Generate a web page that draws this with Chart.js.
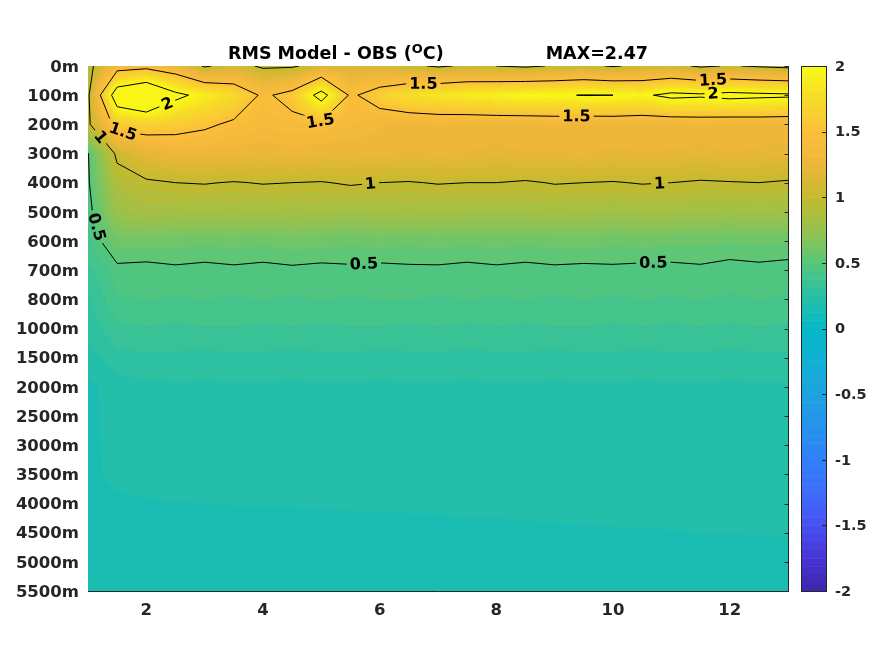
<!DOCTYPE html>
<html>
<head>
<meta charset="utf-8">
<script src="https://cdn.jsdelivr.net/npm/chart.js@4.4.0/dist/chart.umd.min.js"></script>
<style>
  html, body { margin: 0; padding: 0; background: #fff; }
  #wrap { width: 875px; height: 656px; }
</style>
</head>
<body>
<div id="wrap"><canvas id="rms"></canvas></div>
<script>
// depth levels (rows) and time axis (columns)
const depths = [0, 100, 200, 300, 400, 500, 600, 700, 800, 1000, 1500, 2000, 2500, 3000, 3500, 4000, 4500, 5000, 5500];
const months = [1, 1.5, 2, 2.5, 3, 3.5, 4, 4.5, 5, 5.5, 6, 6.5, 7, 7.5, 8, 8.5, 9, 9.5, 10, 10.5, 11, 11.5, 12, 12.5, 13];
const xTicks = [2, 4, 6, 8, 10, 12];
const cbTicks = [-2, -1.5, -1, -0.5, 0, 0.5, 1, 1.5, 2];
const levels = [0.5, 1, 1.5, 2];

// RMS values per depth, one entry per month column
const rms0    = [0.92, 1.35, 1.40, 1.28, 0.97, 1.10, 0.96, 0.97, 1.10, 1.15, 1.10, 1.05, 0.97, 1.03, 1.00, 0.96, 1.02, 1.05, 0.98, 1.05, 1.08, 0.96, 1.02, 0.97, 0.93];
const rms100  = [0.95, 2.25, 2.47, 2.08, 1.90, 1.75, 1.45, 1.60, 2.15, 1.45, 1.65, 1.80, 1.85, 1.90, 1.93, 1.98, 1.97, 2.01, 2.00, 1.95, 2.08, 2.05, 2.10, 2.07, 2.05];
const rms200  = [0.95, 1.62, 1.66, 1.62, 1.55, 1.45, 1.40, 1.42, 1.42, 1.38, 1.32, 1.30, 1.32, 1.30, 1.31, 1.30, 1.32, 1.30, 1.31, 1.30, 1.30, 1.32, 1.30, 1.31, 1.30];
const rms300  = [0.49, 1.05, 1.22, 1.28, 1.28, 1.27, 1.25, 1.28, 1.26, 1.25, 1.27, 1.24, 1.26, 1.25, 1.22, 1.25, 1.24, 1.26, 1.23, 1.25, 1.24, 1.22, 1.25, 1.23, 1.22];
const rms400  = [0.48, 0.90, 0.97, 1.00, 1.01, 0.99, 1.01, 1.00, 0.99, 1.02, 1.00, 0.99, 1.01, 1.00, 1.00, 0.98, 1.01, 1.00, 0.99, 1.01, 1.00, 0.98, 0.99, 1.00, 0.98];
const rms500  = [0.45, 0.78, 0.84, 0.83, 0.82, 0.83, 0.82, 0.83, 0.82, 0.81, 0.82, 0.83, 0.82, 0.82, 0.81, 0.82, 0.83, 0.82, 0.81, 0.82, 0.82, 0.81, 0.80, 0.81, 0.80];
const rms600  = [0.42, 0.60, 0.60, 0.59, 0.58, 0.59, 0.58, 0.60, 0.59, 0.58, 0.59, 0.58, 0.59, 0.58, 0.59, 0.58, 0.59, 0.60, 0.58, 0.59, 0.58, 0.58, 0.57, 0.58, 0.57];
const rms700  = [0.35, 0.47, 0.46, 0.48, 0.47, 0.48, 0.47, 0.48, 0.47, 0.48, 0.47, 0.48, 0.48, 0.47, 0.48, 0.47, 0.48, 0.47, 0.48, 0.47, 0.47, 0.48, 0.46, 0.47, 0.46];
const rms800  = [0.30, 0.43, 0.44, 0.43, 0.44, 0.43, 0.44, 0.43, 0.44, 0.43, 0.44, 0.44, 0.43, 0.44, 0.43, 0.44, 0.43, 0.44, 0.43, 0.44, 0.43, 0.44, 0.43, 0.44, 0.43];
const rms1000 = [0.27, 0.36, 0.37, 0.36, 0.37, 0.37, 0.36, 0.37, 0.36, 0.37, 0.37, 0.36, 0.37, 0.36, 0.37, 0.36, 0.37, 0.37, 0.36, 0.37, 0.36, 0.37, 0.36, 0.37, 0.36];
const rms1500 = [0.22, 0.29, 0.30, 0.30, 0.29, 0.30, 0.30, 0.29, 0.30, 0.30, 0.29, 0.30, 0.30, 0.29, 0.30, 0.30, 0.29, 0.30, 0.30, 0.29, 0.30, 0.30, 0.29, 0.30, 0.30];
const rms2000 = [0.17, 0.22, 0.235, 0.24, 0.24, 0.24, 0.24, 0.24, 0.24, 0.24, 0.24, 0.24, 0.24, 0.24, 0.24, 0.24, 0.24, 0.24, 0.24, 0.24, 0.24, 0.24, 0.24, 0.24, 0.24];
const rms2500 = [0.17, 0.215, 0.23, 0.23, 0.23, 0.23, 0.23, 0.23, 0.23, 0.23, 0.23, 0.23, 0.23, 0.23, 0.23, 0.23, 0.23, 0.23, 0.23, 0.23, 0.23, 0.23, 0.23, 0.23, 0.23];
const rms3000 = [0.17, 0.21, 0.225, 0.225, 0.225, 0.225, 0.225, 0.225, 0.225, 0.225, 0.225, 0.225, 0.225, 0.225, 0.225, 0.225, 0.225, 0.225, 0.225, 0.225, 0.225, 0.225, 0.225, 0.225, 0.225];
const rms3500 = [0.17, 0.205, 0.215, 0.22, 0.22, 0.22, 0.22, 0.22, 0.22, 0.22, 0.22, 0.22, 0.22, 0.22, 0.22, 0.22, 0.22, 0.22, 0.22, 0.22, 0.22, 0.22, 0.22, 0.22, 0.22];
const rms4000 = [0.165, 0.175, 0.181, 0.185, 0.188, 0.189, 0.19, 0.19, 0.191, 0.192, 0.193, 0.194, 0.195, 0.196, 0.197, 0.198, 0.199, 0.2, 0.2, 0.201, 0.203, 0.205, 0.206, 0.208, 0.21];
const rms4500 = [0.16, 0.165, 0.166, 0.167, 0.168, 0.169, 0.17, 0.171, 0.172, 0.173, 0.174, 0.175, 0.175, 0.177, 0.178, 0.18, 0.182, 0.183, 0.184, 0.185, 0.186, 0.187, 0.188, 0.189, 0.19];
const rms5000 = [0.15, 0.152, 0.153, 0.154, 0.155, 0.156, 0.157, 0.158, 0.159, 0.16, 0.161, 0.162, 0.163, 0.164, 0.165, 0.166, 0.167, 0.168, 0.169, 0.17, 0.171, 0.172, 0.173, 0.174, 0.175];
const rms5500 = [0.14, 0.142, 0.143, 0.144, 0.145, 0.146, 0.147, 0.148, 0.149, 0.15, 0.151, 0.152, 0.153, 0.154, 0.155, 0.155, 0.156, 0.156, 0.157, 0.157, 0.158, 0.158, 0.159, 0.159, 0.16];

const rms = [rms0, rms100, rms200, rms300, rms400, rms500, rms600, rms700, rms800, rms1000,
             rms1500, rms2000, rms2500, rms3000, rms3500, rms4000, rms4500, rms5000, rms5500];

const nx = months.length, ny = depths.length;
const cMin = -2, cMax = 2, nColors = 64;
const maxVal = Math.max(...rms.map(r => Math.max(...r)));

// parula-like colormap anchors
const cmapAnchors = [
  [62, 38, 168], [70, 52, 212], [72, 80, 240], [60, 108, 252], [48, 128, 248],
  [38, 146, 236], [30, 162, 224], [16, 176, 212], [4, 184, 200], [40, 192, 166],
  [86, 198, 122], [150, 194, 78], [196, 186, 46], [236, 182, 58], [252, 190, 58],
  [246, 218, 40], [249, 250, 20]
];

function colorFor(v) {
  let k = Math.floor((v - cMin) / (cMax - cMin) * nColors);
  k = Math.max(0, Math.min(nColors - 1, k));
  const t = (k + 0.5) / nColors * (cmapAnchors.length - 1);
  const i = Math.min(Math.floor(t), cmapAnchors.length - 2);
  const f = t - i;
  const a = cmapAnchors[i], b = cmapAnchors[i + 1];
  return [0, 1, 2].map(c => Math.round(a[c] + (b[c] - a[c]) * f));
}

function valueAt(x, yi) {
  let i = 0;
  while (i < nx - 2 && x > months[i + 1]) i++;
  const fx = Math.max(0, Math.min(1, (x - months[i]) / (months[i + 1] - months[i])));
  const j = Math.max(0, Math.min(ny - 2, Math.floor(yi)));
  const fy = Math.max(0, Math.min(1, yi - j));
  const r0 = rms[j], r1 = rms[j + 1];
  return (r0[i] * (1 - fx) + r0[i + 1] * fx) * (1 - fy) + (r1[i] * (1 - fx) + r1[i + 1] * fx) * fy;
}

// marching squares, chained into polylines
function contourLines(level) {
  const segs = [];
  const up = v => v >= level;
  const cross = (i0, j0, i1, j1) => {
    const a = rms[j0][i0], b = rms[j1][i1];
    const t = (level - a) / (b - a);
    return { x: months[i0] + t * (months[i1] - months[i0]), y: j0 + t * (j1 - j0) };
  };
  for (let j = 0; j < ny - 1; j++) {
    for (let i = 0; i < nx - 1; i++) {
      const v00 = rms[j][i], v10 = rms[j][i + 1], v01 = rms[j + 1][i], v11 = rms[j + 1][i + 1];
      const e = [];
      if (up(v00) !== up(v10)) e[0] = { k: 'h' + i + '_' + j, p: cross(i, j, i + 1, j) };
      if (up(v10) !== up(v11)) e[1] = { k: 'v' + (i + 1) + '_' + j, p: cross(i + 1, j, i + 1, j + 1) };
      if (up(v01) !== up(v11)) e[2] = { k: 'h' + i + '_' + (j + 1), p: cross(i, j + 1, i + 1, j + 1) };
      if (up(v00) !== up(v01)) e[3] = { k: 'v' + i + '_' + j, p: cross(i, j, i, j + 1) };
      const have = [0, 1, 2, 3].filter(n => e[n]);
      if (have.length === 2) {
        segs.push([e[have[0]], e[have[1]]]);
      } else if (have.length === 4) {
        const c = (v00 + v10 + v01 + v11) / 4;
        if (up(c) === up(v00)) { segs.push([e[0], e[1]]); segs.push([e[2], e[3]]); }
        else { segs.push([e[3], e[0]]); segs.push([e[1], e[2]]); }
      }
    }
  }
  const byKey = {};
  segs.forEach((s, n) => s.forEach(end => (byKey[end.k] = byKey[end.k] || []).push(n)));
  const used = segs.map(() => false);
  const lines = [];
  const walk = (line, atEnd) => {
    let cur = atEnd ? line[line.length - 1].k : line[0].k;
    for (;;) {
      const m = (byKey[cur] || []).find(n => !used[n]);
      if (m === undefined) break;
      used[m] = true;
      const next = segs[m][0].k === cur ? segs[m][1] : segs[m][0];
      if (atEnd) line.push(next); else line.unshift(next);
      cur = next.k;
    }
  };
  for (let n = 0; n < segs.length; n++) {
    if (used[n]) continue;
    used[n] = true;
    const line = [segs[n][0], segs[n][1]];
    walk(line, true);
    walk(line, false);
    let pts = line.map(e => e.p);
    const a = pts[0], b = pts[pts.length - 1];
    if (b.x < a.x - 0.05 || (Math.abs(b.x - a.x) <= 0.05 && b.y < a.y)) pts = pts.reverse();
    lines.push(pts);
  }
  return lines;
}

const textColor = '#262626';
const tickFont = { family: 'DejaVu Sans', size: 16.5, weight: 'bold' };

const heatmapPlugin = {
  id: 'heatmap',
  beforeDatasetsDraw(chart) {
    const { ctx, chartArea: area, scales: { x, y, cb } } = chart;
    const w = Math.round(area.right - area.left), h = Math.round(area.bottom - area.top);

    // filled field
    const off = document.createElement('canvas');
    off.width = w; off.height = h;
    const octx = off.getContext('2d');
    const img = octx.createImageData(w, h);
    for (let px = 0; px < w; px++) {
      const xv = x.getValueForPixel(area.left + px + 0.5);
      for (let py = 0; py < h; py++) {
        const yv = y.getValueForPixel(area.top + py + 0.5);
        const col = colorFor(valueAt(xv, yv));
        const o = (py * w + px) * 4;
        img.data[o] = col[0]; img.data[o + 1] = col[1]; img.data[o + 2] = col[2]; img.data[o + 3] = 255;
      }
    }
    octx.putImageData(img, 0, 0);
    ctx.drawImage(off, area.left, area.top, w, h);

    // contour lines and their labels
    ctx.save();
    ctx.font = 'bold 16px "DejaVu Sans"';
    const labels = [];
    const allLines = [];
    levels.forEach(level => {
      contourLines(level).forEach(line => {
        const pts = line.map(p => ({ x: x.getPixelForValue(p.x), y: y.getPixelForValue(p.y) }));
        allLines.push(pts);
        const cum = [0];
        for (let k = 1; k < pts.length; k++) cum.push(cum[k - 1] + Math.hypot(pts[k].x - pts[k - 1].x, pts[k].y - pts[k - 1].y));
        const len = cum[cum.length - 1];
        if (len < 90) return;
        const at = s => {
          s = Math.max(0, Math.min(len, s));
          let k = 1;
          while (k < pts.length - 1 && cum[k] < s) k++;
          const f = (s - cum[k - 1]) / ((cum[k] - cum[k - 1]) || 1);
          return { x: pts[k - 1].x + f * (pts[k].x - pts[k - 1].x), y: pts[k - 1].y + f * (pts[k].y - pts[k - 1].y) };
        };
        const spots = [];
        for (let s = 75; s <= len - 30; s += 290) spots.push(s);
        if (!spots.length) spots.push(len / 2);
        spots.forEach(s => {
          const p = at(s), a = at(s - 12), b = at(s + 12);
          let ang = Math.atan2(b.y - a.y, b.x - a.x);
          if (ang > Math.PI / 2) ang -= Math.PI;
          if (ang < -Math.PI / 2) ang += Math.PI;
          const text = String(level);
          labels.push({ x: p.x, y: p.y, ang, text, hw: ctx.measureText(text).width / 2 + 3, hh: 8 });
        });
      });
    });

    ctx.beginPath();
    ctx.rect(area.left, area.top, w, h);
    labels.forEach(l => {
      const c = Math.cos(l.ang), s = Math.sin(l.ang);
      const corners = [[-l.hw, -l.hh], [l.hw, -l.hh], [l.hw, l.hh], [-l.hw, l.hh]];
      corners.forEach(([u, v], idx) => {
        const px = l.x + u * c - v * s, py = l.y + u * s + v * c;
        if (idx === 0) ctx.moveTo(px, py); else ctx.lineTo(px, py);
      });
      ctx.closePath();
    });
    ctx.clip('evenodd');
    ctx.strokeStyle = '#000';
    ctx.lineWidth = 1;
    allLines.forEach(pts => {
      ctx.beginPath();
      pts.forEach((p, k) => (k ? ctx.lineTo(p.x, p.y) : ctx.moveTo(p.x, p.y)));
      ctx.stroke();
    });
    ctx.restore();

    ctx.save();
    ctx.font = 'bold 16px "DejaVu Sans"';
    ctx.fillStyle = '#000';
    ctx.textAlign = 'center';
    ctx.textBaseline = 'middle';
    labels.forEach(l => {
      ctx.save();
      ctx.translate(l.x, l.y);
      ctx.rotate(l.ang);
      ctx.fillText(l.text, 0, 1);
      ctx.restore();
    });
    ctx.restore();

    // colorbar
    const cbLeft = area.right + 13, cbWidth = 25;
    for (let k = 0; k < nColors; k++) {
      const v0 = cMin + k * (cMax - cMin) / nColors, v1 = v0 + (cMax - cMin) / nColors;
      const col = colorFor((v0 + v1) / 2);
      const yTop = cb.getPixelForValue(v1), yBot = cb.getPixelForValue(v0);
      ctx.fillStyle = `rgb(${col[0]},${col[1]},${col[2]})`;
      ctx.fillRect(cbLeft, yTop, cbWidth, yBot - yTop + 0.5);
    }
    ctx.save();
    ctx.strokeStyle = textColor;
    ctx.lineWidth = 1;
    ctx.strokeRect(cbLeft + 0.5, area.top + 0.5, cbWidth, area.bottom - area.top);
    cbTicks.forEach(v => {
      const py = Math.round(cb.getPixelForValue(v)) + 0.5;
      ctx.beginPath();
      ctx.moveTo(cbLeft + cbWidth + 0.5, py);
      ctx.lineTo(cbLeft + cbWidth - 4, py);
      ctx.stroke();
    });
    ctx.restore();
  },
  afterDraw(chart) {
    const { ctx, chartArea: area, scales: { y } } = chart;
    ctx.save();
    ctx.strokeStyle = textColor;
    ctx.lineWidth = 1;
    const r = Math.round(area.right) + 0.5, b = Math.round(area.bottom) + 0.5;
    ctx.beginPath();
    ctx.moveTo(area.left, b);
    ctx.lineTo(r, b);
    ctx.lineTo(r, area.top);
    ctx.stroke();
    depths.forEach((d, i) => {
      const py = Math.round(y.getPixelForValue(i)) + 0.5;
      ctx.beginPath();
      ctx.moveTo(r, py);
      ctx.lineTo(r - 4, py);
      ctx.stroke();
    });

    // title with superscript
    const cx = (area.left + area.right) / 2, base = 59;
    const main = 'bold 17.5px "DejaVu Sans"', sup = 'bold 13px "DejaVu Sans"';
    const p1 = 'RMS Model - OBS (', p2 = 'O', p3 = 'C)', p4 = 'MAX=' + maxVal.toFixed(2);
    ctx.font = main;
    const w1 = ctx.measureText(p1).width, w3 = ctx.measureText(p3).width, w4 = ctx.measureText(p4).width;
    ctx.font = sup;
    const w2 = ctx.measureText(p2).width;
    const gap = 102;
    let tx = cx - (w1 + w2 + w3 + gap + w4) / 2;
    ctx.fillStyle = '#000';
    ctx.textBaseline = 'alphabetic';
    ctx.textAlign = 'left';
    ctx.font = main; ctx.fillText(p1, tx, base); tx += w1;
    ctx.font = sup; ctx.fillText(p2, tx, base - 6); tx += w2;
    ctx.font = main; ctx.fillText(p3, tx, base); tx += w3 + gap;
    ctx.fillText(p4, tx, base);
    ctx.restore();
  }
};

new Chart(document.getElementById('rms'), {
  type: 'scatter',
  data: { datasets: [{ data: [], showLine: false }] },
  options: {
    responsive: true,
    maintainAspectRatio: false,
    animation: false,
    layout: { padding: { top: 66, left: 0, right: 0, bottom: 0 } },
    plugins: { legend: { display: false }, tooltip: { enabled: false }, title: { display: false } },
    scales: {
      x: {
        type: 'linear', min: 1, max: 13,
        afterBuildTicks: s => { s.ticks = xTicks.map(v => ({ value: v })); },
        afterFit: s => { s.height = 65; },
        grid: { display: false, drawTicks: false },
        border: { display: false },
        ticks: { font: tickFont, color: textColor, padding: 10, callback: v => String(v) }
      },
      y: {
        type: 'linear', min: 0, max: depths.length - 1, reverse: true,
        afterBuildTicks: s => { s.ticks = depths.map((d, i) => ({ value: i })); },
        afterFit: s => { s.width = 88; },
        grid: { display: false, drawTicks: false },
        border: { display: false },
        ticks: { font: tickFont, color: textColor, padding: 9, labelOffset: 1.5, autoSkip: false, callback: v => depths[v] + 'm' }
      },
      cb: {
        type: 'linear', axis: 'y', position: 'right', min: cMin, max: cMax,
        afterBuildTicks: s => { s.ticks = cbTicks.map(v => ({ value: v })); },
        afterFit: s => { s.width = 87; },
        grid: { display: false, drawTicks: false },
        border: { display: false },
        ticks: { font: { family: 'DejaVu Sans', size: 14.5, weight: 'bold' }, color: textColor, padding: 47, labelOffset: 1, callback: v => String(v) }
      }
    }
  },
  plugins: [heatmapPlugin]
});
</script>
</body>
</html>
